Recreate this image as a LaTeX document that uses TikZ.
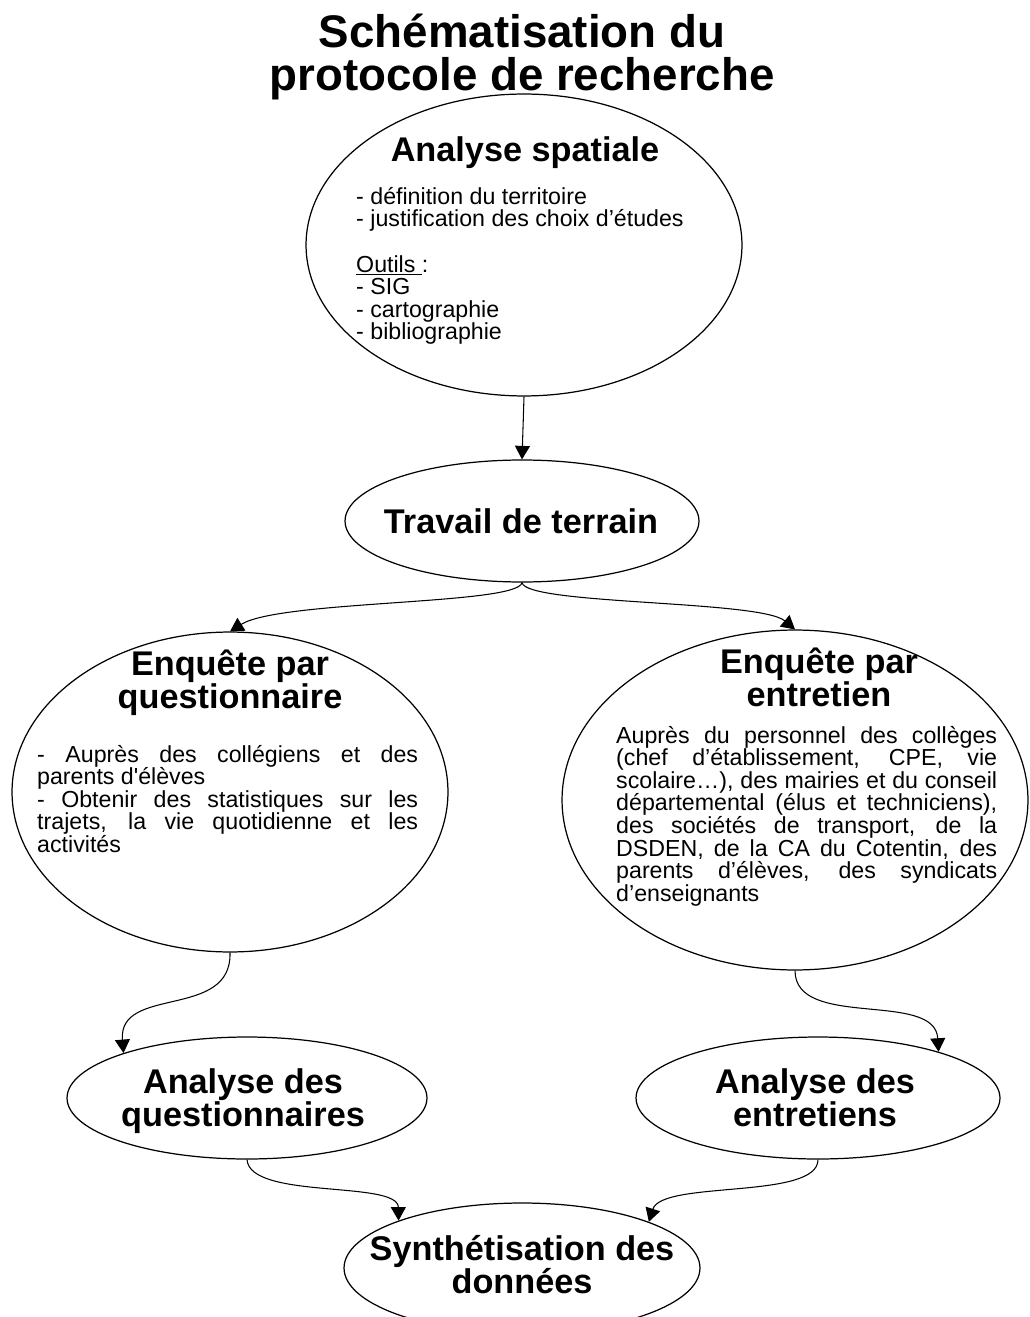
\documentclass[tikz,border=0pt]{standalone}
\usepackage{fontspec}
\setmainfont{Liberation Sans}
\usetikzlibrary{shapes.geometric,arrows.meta}
\setlength{\parindent}{0pt}

\tikzset{
  bulle/.style={ellipse, draw, line width=0.7pt, inner sep=0pt},
  titre/.style={font=\fontsize{26}{25}\selectfont\bfseries, align=center},
  entete/.style={font=\fontsize{19.5}{18.4}\selectfont\bfseries, align=center},
  corps/.style={font=\fontsize{13.2}{12.9}\selectfont},
  fleche/.style={-{Triangle[length=2.7mm,width=3mm]}, line width=0.6pt},
}

\begin{document}
\begin{tikzpicture}[x=0.02cm, y=-0.02cm]
  \useasboundingbox (0,0) rectangle (1029,1317);
  \node[titre, anchor=base] (titre) at (522,91) {Schématisation du\\protocole de recherche};

  % les ellipses
  \node[bulle, minimum width=8.72cm, minimum height=6.04cm] (spat) at (524,245) {};
  \node[bulle, minimum width=7.08cm, minimum height=2.44cm] (terrain) at (522,521) {};
  \node[bulle, minimum width=8.72cm, minimum height=6.4cm] (quest) at (230,792) {};
  \node[bulle, minimum width=9.32cm, minimum height=6.8cm] (entr) at (795,800) {};
  \node[bulle, minimum width=7.2cm, minimum height=2.44cm] (aq) at (247,1098) {};
  \node[bulle, minimum width=7.28cm, minimum height=2.44cm] (ae) at (818,1098) {};
  \node[bulle, minimum width=7.12cm, minimum height=2.6cm] (syn) at (522,1268) {};

  % les textes
  \node[entete, anchor=base] (spatT) at (525,162) {Analyse spatiale};
  \node[corps, anchor=base west, align=left] (spatC) at (350,340)
    {- définition du territoire\\- justification des choix d’études\\[12.9pt]\underline{Outils\ }:\\- SIG\\- cartographie\\- bibliographie};
  \node[entete, anchor=base] (terrainT) at (521,533) {Travail de terrain};
  \node[entete, anchor=base] (questT) at (230,708) {Enquête par\\questionnaire};
  \node[corps, anchor=base west, text width=7.62cm, align=justify] (questC) at (31,762)
    {- Auprès des collégiens et des\linebreak parents d\textquotesingle élèves\par
     - Obtenir des statistiques sur les\linebreak trajets, la vie quotidienne et les\linebreak activités};
  \node[entete, anchor=base] (entrT) at (819,706) {Enquête par\\entretien};
  \node[corps, anchor=base west, text width=7.62cm, align=justify] (entrC) at (610,743)
    {Auprès du personnel des collèges\linebreak (chef d’établissement, CPE, vie\linebreak scolaire…), des mairies et du conseil\linebreak départemental (élus et techniciens),\linebreak des sociétés de transport, de la\linebreak DSDEN, de la CA du Cotentin, des\linebreak parents d’élèves, des syndicats\linebreak d’enseignants};
  \node[entete, anchor=base] (aqT) at (243,1126) {Analyse des\\questionnaires};
  \node[entete, anchor=base] (aeT) at (815,1126) {Analyse des\\entretiens};
  \node[entete, anchor=base] (synT) at (522,1293) {Synthétisation des\\données};

  % les flèches
  \draw[fleche] (spat.south) -- (terrain.north);
  \draw[fleche] (terrain.south) .. controls (518,605) and (280,600) .. (quest.north);
  \draw[fleche] (terrain.south) .. controls (526,605) and (760,600) .. (entr.north);
  \draw[fleche] (quest.south) .. controls (232,1020) and (118,985) .. (aq.160);
  \draw[fleche] (entr.south) .. controls (795,1030) and (935,990) .. (ae.21);
  \draw[fleche] (aq.south) .. controls (250,1200) and (398,1180) .. (syn.159);
  \draw[fleche] (ae.south) .. controls (818,1200) and (662,1180) .. (syn.20);
\end{tikzpicture}
\end{document}
